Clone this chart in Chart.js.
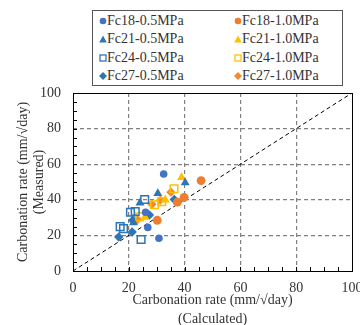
<!DOCTYPE html>
<html>
<head>
<meta charset="utf-8">
<script src="https://cdn.jsdelivr.net/npm/chart.js@4.4.1/dist/chart.umd.min.js"></script>
<style>
  html, body { margin: 0; padding: 0; overflow: hidden; background: #fff; width: 360px; height: 325px; }
  #wrap { position: relative; width: 364px; height: 325px; }
  #legend { position: absolute; left: 92px; top: 10px; width: 249px; height: 74px; border: 1px solid #555; background: #fff;
            font-family: "Liberation Serif", "Times New Roman", serif; font-size: 14px; color: #333; }
  .item { position: absolute; height: 18px; line-height: 18px; white-space: nowrap; }
  .item svg { position: absolute; left: 0; top: 5px; }
  .item span { position: absolute; left: 8px; top: 0; }
</style>
</head>
<body>
<div id="wrap">
  <canvas id="c" width="364" height="325"></canvas>
  <div id="legend"></div>
</div>
<script>
// ---- data ----
const seriesNames = ['Fc18-0.5MPa','Fc18-1.0MPa','Fc21-0.5MPa','Fc21-1.0MPa','Fc24-0.5MPa','Fc24-1.0MPa','Fc27-0.5MPa','Fc27-1.0MPa'];
const tickValues = [0, 20, 40, 60, 80, 100];

const fc18_05_calc = [32.5, 26.0, 26.8, 30.8];
const fc18_05_meas = [54.5, 33.0, 24.5, 18.4];
const fc18_10_calc = [45.9, 37.4, 39.8, 30.2];
const fc18_10_meas = [50.8, 38.7, 41.3, 28.5];
const fc21_05_calc = [40.2, 30.4, 24.0, 21.7];
const fc21_05_meas = [49.6, 43.6, 38.3, 27.2];
const fc21_10_calc = [38.9, 33.1, 25.8];
const fc21_10_meas = [52.6, 40.0, 30.2];
const fc24_05_calc = [25.7, 20.6, 22.3, 16.9, 18.1, 24.4];
const fc24_05_meas = [40.2, 33.0, 33.4, 24.9, 23.8, 17.7];
const fc24_10_calc = [36.2, 29.2, 31.8, 23.9];
const fc24_10_meas = [46.2, 37.2, 39.0, 30.4];
const fc27_05_calc = [36.3, 27.4, 21.4, 21.2, 16.4];
const fc27_05_meas = [40.2, 31.5, 28.5, 21.9, 19.1];
const fc27_10_calc = [35.1, 28.3, 31.3, 23.1];
const fc27_10_meas = [44.3, 37.5, 39.8, 28.9];
const refLineX = [0, 100];
const refLineY = [0, 100];

// ---- styles ----
const BLUE = '#2e75b6', BLUE2 = '#4472c4', ORANGE = '#ed7d31', YELLOW = '#ffc000', ORANGE2 = '#f28b30';
const styles = [
  {shape:'circle',   color: BLUE2,  fill: true,  r: 3.8},
  {shape:'circle',   color: ORANGE, fill: true,  r: 4.4},
  {shape:'triangle', color: BLUE,   fill: true,  r: 5.2},
  {shape:'triangle', color: YELLOW, fill: true,  r: 5.2},
  {shape:'rect',     color: BLUE,   fill: false, r: 5.4},
  {shape:'rect',     color: YELLOW, fill: false, r: 5.4},
  {shape:'rectRot',  color: BLUE,   fill: true,  r: 4.7},
  {shape:'rectRot',  color: ORANGE2,fill: true,  r: 4.7}
];
const seriesX = [fc18_05_calc, fc18_10_calc, fc21_05_calc, fc21_10_calc, fc24_05_calc, fc24_10_calc, fc27_05_calc, fc27_10_calc];
const seriesY = [fc18_05_meas, fc18_10_meas, fc21_05_meas, fc21_10_meas, fc24_05_meas, fc24_10_meas, fc27_05_meas, fc27_10_meas];

const datasets = seriesNames.map((name, i) => ({
  label: name,
  data: seriesX[i].map((x, j) => ({x: x, y: seriesY[i][j]})),
  pointStyle: styles[i].shape,
  pointRadius: styles[i].r,
  pointHoverRadius: styles[i].r,
  backgroundColor: styles[i].fill ? styles[i].color : 'rgba(255,255,255,0)',
  borderColor: styles[i].color,
  borderWidth: styles[i].fill ? 0 : 1.5,
  order: 0
}));
datasets.push({
  type: 'line',
  label: 'y=x',
  data: refLineX.map((x, j) => ({x: x, y: refLineY[j]})),
  borderColor: '#000',
  borderWidth: 1,
  borderDash: [4, 3],
  pointRadius: 0,
  fill: false,
  order: 1
});

// ---- HTML legend ----
const legend = document.getElementById('legend');
seriesNames.forEach((name, i) => {
  const col = i % 2, row = Math.floor(i / 2);
  const d = document.createElement('div');
  d.className = 'item';
  d.style.left = (col === 0 ? 6 : 141) + 'px';
  d.style.top = (1 + row * 18.3) + 'px';
  const s = styles[i];
  let shape = '';
  if (s.shape === 'circle') shape = `<circle cx="4" cy="4" r="3.3" fill="${s.color}"/>`;
  else if (s.shape === 'triangle') shape = `<polygon points="4,0.5 7.8,7.5 0.2,7.5" fill="${s.color}"/>`;
  else if (s.shape === 'rect') shape = `<rect x="1" y="1" width="6" height="6" fill="none" stroke="${s.color}" stroke-width="1.3"/>`;
  else shape = `<polygon points="4,0 8,4 4,8 0,4" fill="${s.color}"/>`;
  d.innerHTML = `<svg width="8" height="8" viewBox="0 0 8 8">${shape}</svg><span>${name}</span>`;
  legend.appendChild(d);
});

// ---- frame + inward minor ticks ----
const framePlugin = {
  id: 'frame',
  afterDatasetsDraw(chart) {
    const {ctx, chartArea: a, scales} = chart;
    ctx.save();
    ctx.strokeStyle = '#000';
    ctx.lineWidth = 1;
    ctx.setLineDash([]);
    ctx.strokeRect(Math.round(a.left) + 0.5, Math.round(a.top) + 0.5, Math.round(a.right - a.left), Math.round(a.bottom - a.top));
    ctx.beginPath();
    for (let v = 5; v < 100; v += 5) {
      const px = Math.round(scales.x.getPixelForValue(v)) + 0.5;
      ctx.moveTo(px, a.bottom); ctx.lineTo(px, a.bottom - 4);
      const py = Math.round(scales.y.getPixelForValue(v)) + 0.5;
      ctx.moveTo(a.left, py); ctx.lineTo(a.left + 4, py);
    }
    ctx.stroke();
    ctx.restore();
  }
};

const gridColor = (ctx) => (ctx.tick && ctx.tick.value > 0 && ctx.tick.value < 100) ? '#808080' : 'rgba(0,0,0,0)';
const serif = '"Liberation Serif", "Times New Roman", serif';

const chart = new Chart(document.getElementById('c'), {
  type: 'scatter',
  data: { datasets },
  plugins: [framePlugin],
  options: {
    responsive: false,
    animation: false,
    devicePixelRatio: 1,
    layout: { padding: { top: 93, right: 12, bottom: 0, left: 0 } },
    plugins: { legend: { display: false }, tooltip: { enabled: false } },
    scales: {
      x: {
        type: 'linear', min: 0, max: 100,
        afterBuildTicks: (s) => { s.ticks = tickValues.map(v => ({value: v})); },
        ticks: { padding: 0, color: '#333', maxRotation: 0, autoSkip: false,
                 font: { family: serif, size: 14, lineHeight: 2.43 } },
        grid: { color: gridColor, lineWidth: 1.2, drawTicks: false, borderDash: [4, 3] },
        border: { display: false, dash: [4, 3] },
        title: { display: true, text: ['Carbonation rate (mm/√day)', '(Calculated)'], color: '#333',
                 font: { family: serif, size: 14, lineHeight: 1.36 }, padding: { top: 0, bottom: -4 } }
      },
      y: {
        type: 'linear', min: 0, max: 100,
        afterBuildTicks: (s) => { s.ticks = tickValues.map(v => ({value: v})); },
        ticks: { padding: 12, color: '#333', autoSkip: false,
                 font: { family: serif, size: 14, lineHeight: 1.2 } },
        grid: { color: gridColor, lineWidth: 1.2, drawTicks: false, borderDash: [4, 3] },
        border: { display: false, dash: [4, 3] },
        title: { display: true, text: ['Carbonation rate (mm/√day)', '(Measured)'], color: '#333',
                 font: { family: serif, size: 14, lineHeight: 1.15 }, padding: { top: 15, bottom: 0 } }
      }
    }
  }
});

// fit the plot area to the reference frame: left 73, right 352, top 93, bottom 271
const target = {left: 73, right: 352, top: 93, bottom: 271};
for (let k = 0; k < 4; k++) {
  const a = chart.chartArea, o = chart.options;
  o.scales.y.title.padding.bottom += (target.left - a.left);
  o.scales.x.title.padding.top += (a.bottom - target.bottom);
  o.layout.padding.right += (a.right - target.right);
  o.layout.padding.top += (target.top - a.top);
  chart.update('none');
}
</script>
</body>
</html>
